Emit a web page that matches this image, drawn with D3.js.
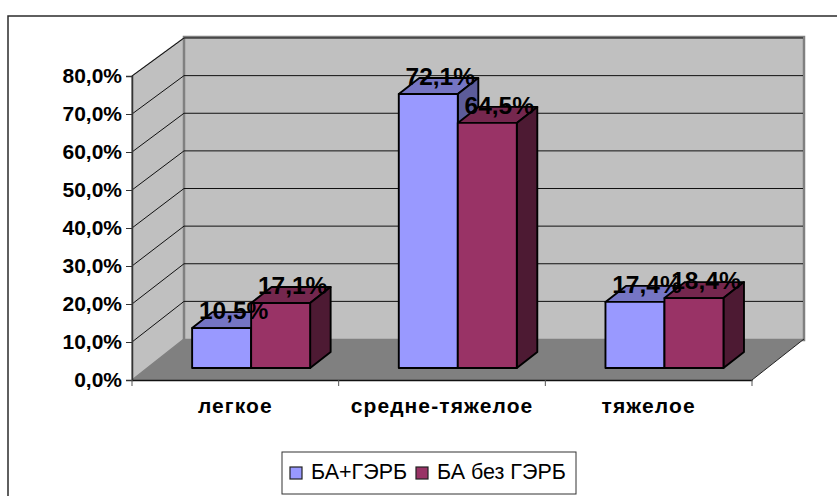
<!DOCTYPE html>
<html>
<head>
<meta charset="utf-8">
<script src="https://cdn.jsdelivr.net/npm/d3@7"></script>
<style>
html,body{margin:0;padding:0;background:#fff;overflow:hidden}
svg{display:block}
text{font-family:"Liberation Sans",Arial,sans-serif;fill:#000}
</style>
</head>
<body>
<svg id="chart" width="837" height="496"></svg>
<script>
const categories = ["легкое", "средне-тяжелое", "тяжелое"];
const seriesNames = ["БА+ГЭРБ", "БА без ГЭРБ"];
const withReflux = [10.5, 72.1, 17.4];
const withoutReflux = [17.1, 64.5, 18.4];
const yTicks = [0, 10, 20, 30, 40, 50, 60, 70, 80];

const seriesValues = [withReflux, withoutReflux];
const front = "#9999ff #993366".split(" ");
const topFace = "#7575c4 #75274e".split(" ");
const sideFace = "#5c5c99 #4d1a33".split(" ");

const plot = {left: 132, right: 752, bottom: 380, top: 76};
const depth = {dx: 52, dy: -41};       // full floor depth
const barDepth = {dx: 20.5, dy: -16};  // depth of one column
const inset = {dx: 15.8, dy: -12};     // columns stand inside the floor

const fmt = v => d3.format(".1f")(v).replace(".", ",") + "%";
const svg = d3.select("#chart");

const y = d3.scaleLinear().domain([0, 80]).range([plot.bottom, plot.top]);
const x = d3.scaleBand().domain(categories).range([plot.left, plot.right]);
const x1 = d3.scaleBand().domain(d3.range(seriesNames.length))
  .range([0, 118]);
const groupOffset = (x.bandwidth() - x1.range()[1]) / 2;

const poly = pts => pts.map(p => p.join(",")).join(" ");

// Outer chart frame runs off the right and bottom of the page
svg.append("path").attr("d", "M8,497V16H838")
  .attr("fill", "none").attr("stroke", "#2b2b2b").attr("stroke-width", 1.5);

// Walls and floor
const wallTop = y(80), wallBase = y(0);
svg.append("polygon")
  .attr("points", poly([[plot.left, wallTop], [plot.left + depth.dx, wallTop + depth.dy + 3],
    [plot.left + depth.dx, wallBase + depth.dy], [plot.left, wallBase]]))
  .attr("fill", "#c0c0c0").attr("stroke", "#808080").attr("stroke-width", 1.5);
svg.append("rect")
  .attr("x", plot.left + depth.dx).attr("y", wallTop + depth.dy + 2)
  .attr("width", plot.right - plot.left).attr("height", wallBase - wallTop - 1)
  .attr("fill", "#c0c0c0").attr("stroke", "#808080").attr("stroke-width", 2.5);

// Gridlines bend from the side wall onto the back wall
const backY = d3.scaleLinear().domain([0, 80]).range([339, 38]);
svg.append("g").selectAll("polyline").data(yTicks.filter(t => t > 0)).join("polyline")
  .attr("points", t => poly([[plot.left, y(t)], [plot.left + depth.dx, backY(t)],
    [plot.right + depth.dx - 1, backY(t)]]))
  .attr("fill", "none").attr("stroke", "#111").attr("stroke-width", 1);

svg.append("polygon")
  .attr("points", poly([[plot.left, wallBase], [plot.left + depth.dx, wallBase + depth.dy],
    [plot.right + depth.dx, wallBase + depth.dy], [plot.right, wallBase]]))
  .attr("fill", "#808080");
svg.append("line")
  .attr("x1", plot.right).attr("y1", wallBase)
  .attr("x2", plot.right + depth.dx).attr("y2", wallBase + depth.dy)
  .attr("stroke", "#222").attr("stroke-width", 1);

// Axes
const yAxis = d3.axisLeft(y).tickValues(yTicks).tickFormat(fmt).tickSize(6).tickPadding(4);
const yG = svg.append("g").attr("transform", `translate(${plot.left},0)`).call(yAxis);
yG.selectAll("path").attr("stroke", "#333").attr("stroke-width", 1.5);
yG.selectAll("line").attr("stroke", "#333").attr("stroke-width", 1);
yG.selectAll("text").attr("font-size", 21).attr("font-weight", "bold")
  .attr("font-family", "Liberation Sans").attr("fill", "#000");

const xAxis = d3.axisBottom(x).tickSize(0).tickPadding(18);
const xG = svg.append("g").attr("transform", `translate(0,${plot.bottom})`).call(xAxis);
xG.selectAll("path").attr("stroke", "#111").attr("stroke-width", 1.5);
xG.selectAll("text").attr("font-size", 21).attr("font-weight", "bold")
  .attr("font-family", "Liberation Sans").attr("fill", "#000")
  .attr("letter-spacing", 1.1);
svg.append("g").selectAll("line").data(d3.range(categories.length + 1)).join("line")
  .attr("x1", i => plot.left + i * x.step()).attr("x2", i => plot.left + i * x.step())
  .attr("y1", plot.bottom).attr("y2", plot.bottom + 6)
  .attr("stroke", "#555").attr("stroke-width", 1);

// 3-D columns: series are drawn left to right so the later one overlaps
const groups = svg.append("g").selectAll("g").data(categories).join("g")
  .attr("transform", c => `translate(${x(c) + groupOffset + inset.dx},${inset.dy})`);
groups.each(function (c, ci) {
  const g = d3.select(this);
  seriesValues.forEach((vals, si) => {
    const x0 = x1(si), x2 = x0 + x1.bandwidth();
    const yt = y(vals[ci]), yb = y(0);
    const d = barDepth;
    const face = g.append("g").attr("stroke", "#000").attr("stroke-width", 1.9)
      .attr("stroke-linejoin", "round");
    face.append("polygon")
      .attr("points", poly([[x0, yt], [x0 + d.dx, yt + d.dy], [x2 + d.dx, yt + d.dy], [x2, yt]]))
      .attr("fill", topFace[si]);
    face.append("polygon")
      .attr("points", poly([[x2, yt], [x2 + d.dx, yt + d.dy], [x2 + d.dx, yb + d.dy], [x2, yb]]))
      .attr("fill", sideFace[si]);
    face.append("rect").attr("x", x0).attr("y", yt)
      .attr("width", x1.bandwidth()).attr("height", yb - yt)
      .attr("fill", front[si]);
  });
});

// Value labels go above everything else
groups.each(function (c, ci) {
  seriesValues.forEach((vals, si) => {
    d3.select(this).append("text")
      .attr("x", x1(si) + x1.bandwidth() / 2 + 12)
      .attr("y", y(vals[ci]) - 9)
      .attr("text-anchor", "middle")
      .attr("font-size", 24.5).attr("font-weight", "bold")
      .text(fmt(vals[ci]));
  });
});

// Legend
const legend = svg.append("g");
legend.append("rect").attr("x", 282).attr("y", 452).attr("width", 294).attr("height", 42)
  .attr("fill", "#fff").attr("stroke", "#333").attr("stroke-width", 1);
const legendX = [290, 416];
seriesNames.forEach((name, i) => {
  legend.append("rect").attr("x", legendX[i]).attr("y", 467).attr("width", 12).attr("height", 12)
    .attr("fill", front[i]).attr("stroke", "#222").attr("stroke-width", 1.2);
  legend.append("text").attr("x", legendX[i] + 21).attr("y", 479)
    .attr("font-size", 21.5).text(name);
});
</script>
</body>
</html>
